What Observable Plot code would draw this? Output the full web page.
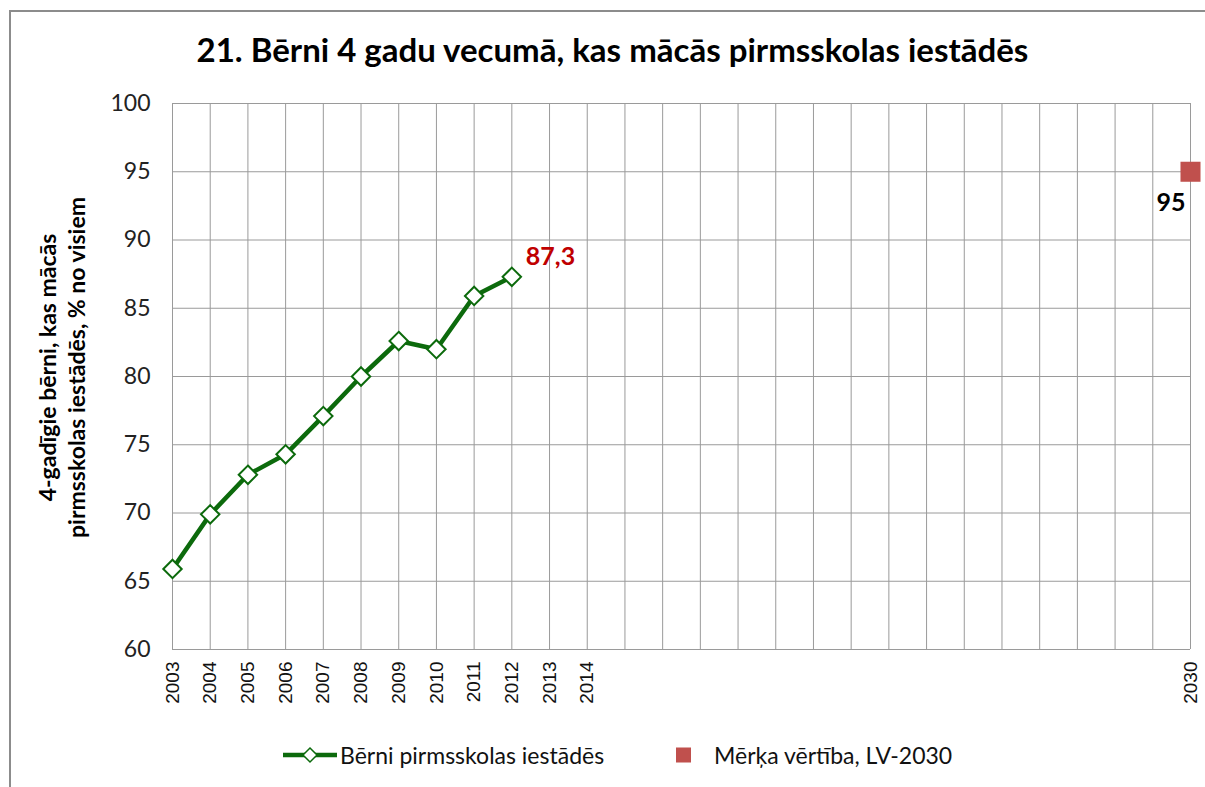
<!DOCTYPE html>
<html>
<head>
<meta charset="utf-8">
<script src="https://cdn.jsdelivr.net/npm/d3@7"></script>
<script src="https://cdn.jsdelivr.net/npm/@observablehq/plot@0.6"></script>
<style>
  html, body { margin: 0; padding: 0; background: #fff; }
  #wrap { position: relative; width: 1205px; height: 787px; overflow: hidden; background: #fff; }
  #frame { position: absolute; left: 9px; top: 10px; width: 1210px; height: 800px;
           border-top: 2px solid #8c8c8c; border-left: 2px solid #8c8c8c; }
  #title { position: absolute; left: 0; width: 1225px; top: 29px; text-align: center;
           font-family: Lato, "Open Sans", sans-serif; font-weight: bold; font-size: 33px; color: #000; }
  #chart { position: absolute; left: 0; top: 0; }
  #legend { position: absolute; top: 741px; left: 0; width: 1205px; height: 28px;
            font-family: Lato, "Open Sans", sans-serif; font-size: 23px; color: #111; }
  .li { position: absolute; top: 0; display: flex; align-items: center; height: 28px; white-space: nowrap; }
</style>
</head>
<body>
<div id="wrap">
  <div id="frame"></div>
  <div id="title"></div>
  <div id="chart"></div>
  <div id="legend"></div>
</div>
<script>
const titleText = "21. Bērni 4 gadu vecumā, kas mācās pirmsskolas iestādēs";
const yLabel = "4-gadīgie bērni, kas mācās\npirmsskolas iestādēs, % no visiem";
const seriesName = "Bērni pirmsskolas iestādēs";
const targetName = "Mērķa vērtība, LV-2030";

const categories = d3.range(2003, 2031).map(String);
const tickLabels = ["2003","2004","2005","2006","2007","2008","2009","2010","2011","2012","2013","2014","2030"];
const yTicks = [60, 65, 70, 75, 80, 85, 90, 95, 100];

const years = ["2003","2004","2005","2006","2007","2008","2009","2010","2011","2012"];
const values = [65.9, 69.9, 72.8, 74.3, 77.1, 80.0, 82.6, 82.0, 85.9, 87.3];
const targetYear = ["2030"];
const targetValue = [95];

const green = "#0c6a0c";
const red = "#c0504d";

const series = years.map((y, i) => ({year: y, value: values[i]}));
const target = targetYear.map((y, i) => ({year: y, value: targetValue[i]}));
const last = series[series.length - 1];

document.getElementById("title").textContent = titleText;

const plot = Plot.plot({
  width: 1205,
  height: 720,
  marginTop: 103,
  marginBottom: 71,
  marginLeft: 172,
  marginRight: 15,
  style: {background: "transparent", overflow: "visible"},
  x: {type: "point", domain: categories, padding: 0, round: false, range: [172, 1190]},
  y: {domain: [60, 100], range: [649, 103]},
  marks: [
    Plot.gridX(categories, {stroke: "#9a9a9a", strokeOpacity: 1, strokeWidth: 1}),
    Plot.gridY(yTicks, {stroke: "#9a9a9a", strokeOpacity: 1, strokeWidth: 1}),
    Plot.axisY({ticks: yTicks, tickSize: 0, tickPadding: 22, fontSize: 23,
                fontFamily: "Lato, 'Open Sans', sans-serif", fill: "#222", label: null}),
    Plot.axisX({ticks: tickLabels, tickSize: 0, tickPadding: 12, tickRotate: -90, fontSize: 19,
                fontFamily: "'Liberation Sans', Arial, sans-serif", fill: "#111", label: null}),
    Plot.text([yLabel], {frameAnchor: "left", textAnchor: "middle", dx: -111, dy: -9, rotate: -90, fontSize: 23,
                fontWeight: "bold", lineHeight: 1.22, fontFamily: "Lato, 'Open Sans', sans-serif", fill: "#000"}),
    Plot.line(series, {x: "year", y: "value", stroke: green, strokeWidth: 4.5}),
    Plot.dot(series, {x: "year", y: "value", symbol: "diamond2", r: 8.3, fill: "#fff", stroke: green, strokeWidth: 2}),
    Plot.text([last], {x: "year", y: "value", text: d => String(d.value).replace(".", ","), textAnchor: "start",
                dx: 14, dy: -20, fontSize: 25, fontWeight: "bold", fill: "#c00000",
                fontFamily: "Lato, 'Open Sans', sans-serif"}),
    Plot.dot(target, {x: "year", y: "value", symbol: "square", r: 11.3, fill: red, stroke: "none"}),
    Plot.text(target, {x: "year", y: "value", text: d => String(d.value), textAnchor: "end",
                dx: -5, dy: 31, fontSize: 25, fontWeight: "bold", fill: "#000",
                fontFamily: "Lato, 'Open Sans', sans-serif"})
  ]
});
document.getElementById("chart").appendChild(plot);

const legend = document.getElementById("legend");
legend.innerHTML =
  `<div class="li" style="left:283px">
     <svg width="54" height="28"><line x1="0" y1="14" x2="54" y2="14" stroke="${green}" stroke-width="4.5"/>
     <path d="M27,7 L34,14 L27,21 L20,14 Z" fill="#fff" stroke="${green}" stroke-width="1.5"/></svg>
     <span style="margin-left:3px">${seriesName}</span></div>
   <div class="li" style="left:676px">
     <svg width="15" height="28"><rect x="0" y="6.5" width="15" height="15" fill="${red}"/></svg>
     <span style="margin-left:23px">${targetName}</span></div>`;
</script>
</body>
</html>
